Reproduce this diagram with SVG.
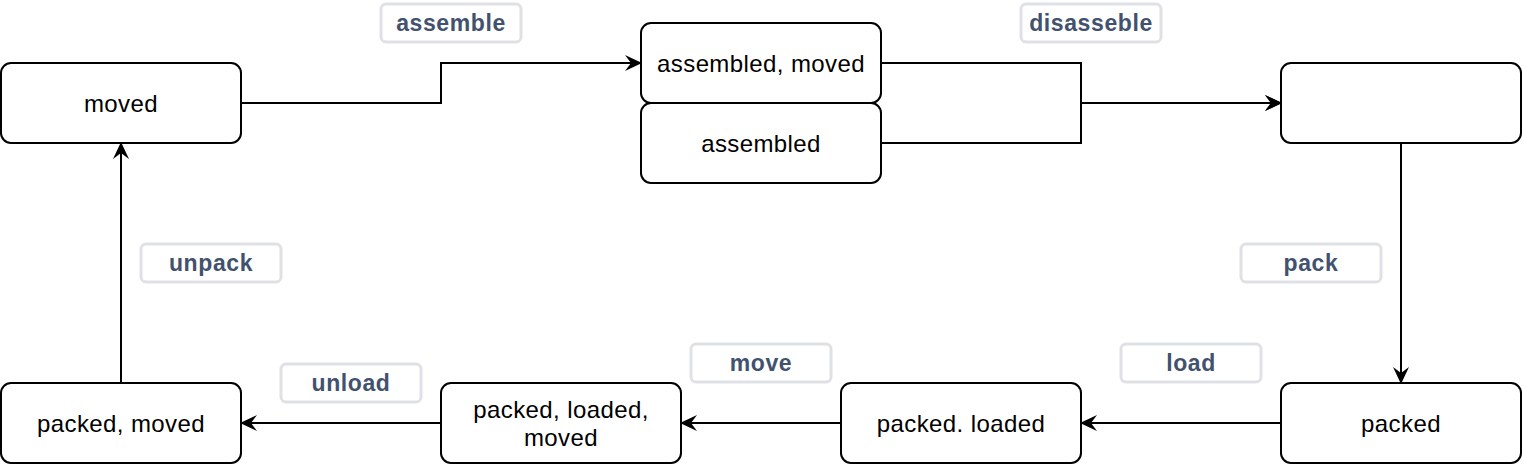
<svg xmlns="http://www.w3.org/2000/svg" width="1522" height="464" viewBox="0 0 1522 464">
<defs>
<marker id="arrow" markerUnits="userSpaceOnUse" markerWidth="20" markerHeight="20" refX="16" refY="9" orient="auto">
<path d="M0,1 L17,9 L0,17 L6,9 Z" fill="#000"/>
</marker>
<style>
.node rect{fill:#fff;stroke:#000;stroke-width:2}
.node text{font-family:"Liberation Sans",Arial,sans-serif;font-size:24px;letter-spacing:0.4px;fill:#000;text-anchor:middle;dominant-baseline:central}
.edge{fill:none;stroke:#000;stroke-width:2;marker-end:url(#arrow)}
.lbl rect{fill:#fff;stroke:#dfe1e6;stroke-width:3}
.lbl text{font-family:"Liberation Sans",Arial,sans-serif;font-size:23px;font-weight:bold;letter-spacing:0.6px;fill:#42526e;text-anchor:middle;dominant-baseline:central}
</style>
</defs>
<rect width="1522" height="464" fill="#fff"/>
<g id="connectors">
<path class="edge" d="M241,103 H441 V63 H641"/>
<path class="edge" d="M881,63 H1081 V103 H1281"/>
<path class="edge" d="M881,143 H1081 V103 H1281"/>
<path class="edge" d="M1401,143 V383"/>
<path class="edge" d="M1281,423 H1081"/>
<path class="edge" d="M841,423 H681"/>
<path class="edge" d="M441,423 H241"/>
<path class="edge" d="M121,383 V143"/>
</g>
<g id="node-moved" class="node"><rect x="1" y="63" width="240" height="80" rx="10"/><text x="121" y="103">moved</text></g>
<g id="node-assembled-moved" class="node"><rect x="641" y="23" width="240" height="80" rx="10"/><text x="761" y="63">assembled, moved</text></g>
<g id="node-assembled" class="node"><rect x="641" y="103" width="240" height="80" rx="10"/><text x="761" y="143">assembled</text></g>
<g id="node-empty" class="node"><rect x="1281" y="63" width="240" height="80" rx="10"/></g>
<g id="node-packed" class="node"><rect x="1281" y="383" width="240" height="80" rx="10"/><text x="1401" y="423">packed</text></g>
<g id="node-packed-loaded" class="node"><rect x="841" y="383" width="240" height="80" rx="10"/><text x="961" y="423">packed. loaded</text></g>
<g id="node-packed-loaded-moved" class="node"><rect x="441" y="383" width="240" height="80" rx="10"/><text x="561" y="409">packed, loaded,</text><text x="561" y="437">moved</text></g>
<g id="node-packed-moved" class="node"><rect x="1" y="383" width="240" height="80" rx="10"/><text x="121" y="423">packed, moved</text></g>
<g id="label-assemble" class="lbl"><rect x="381" y="4" width="140" height="38" rx="5"/><text x="451" y="23">assemble</text></g>
<g id="label-disasseble" class="lbl"><rect x="1021" y="4" width="140" height="38" rx="5"/><text x="1091" y="23">disasseble</text></g>
<g id="label-unpack" class="lbl"><rect x="141" y="244" width="140" height="38" rx="5"/><text x="211" y="263">unpack</text></g>
<g id="label-pack" class="lbl"><rect x="1241" y="244" width="140" height="38" rx="5"/><text x="1311" y="263">pack</text></g>
<g id="label-load" class="lbl"><rect x="1121" y="344" width="140" height="38" rx="5"/><text x="1191" y="363">load</text></g>
<g id="label-move" class="lbl"><rect x="691" y="344" width="140" height="38" rx="5"/><text x="761" y="363">move</text></g>
<g id="label-unload" class="lbl"><rect x="281" y="364" width="140" height="38" rx="5"/><text x="351" y="383">unload</text></g>
</svg>
